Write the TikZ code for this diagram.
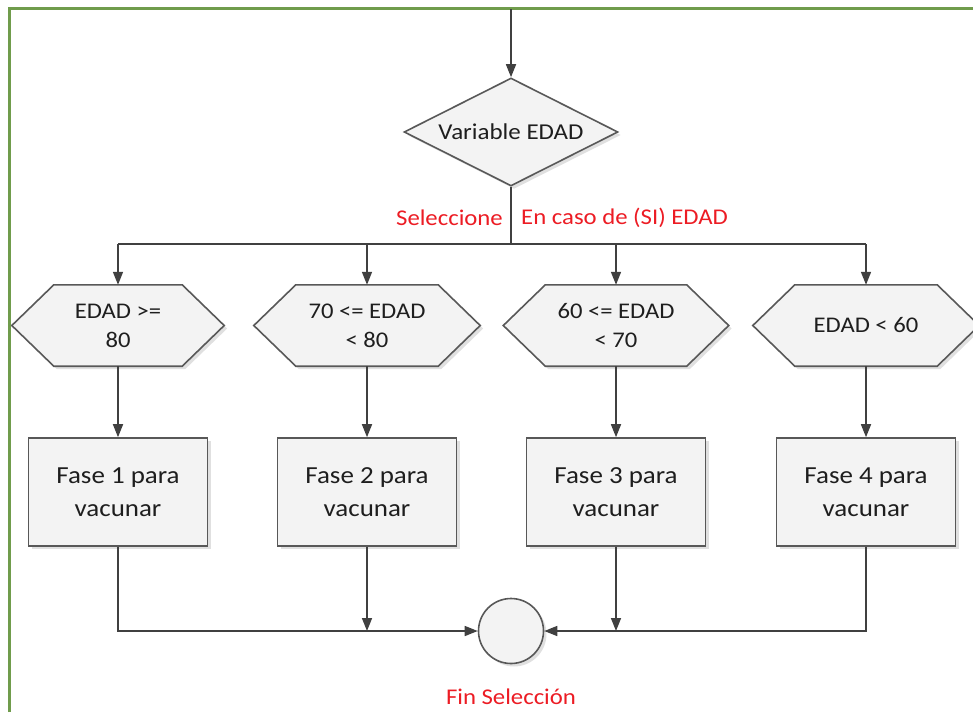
\documentclass[tikz,border=0pt]{standalone}
\usepackage{fontspec}
\setmainfont{Carlito}[FakeStretch=1.1]
\usetikzlibrary{arrows.meta,shapes.geometric,backgrounds,shadows}

\definecolor{frame}{RGB}{112,156,76}
\definecolor{ink}{RGB}{64,64,64}
\definecolor{edge}{RGB}{88,88,88}
\definecolor{shapefill}{RGB}{243,243,243}
\definecolor{note}{RGB}{236,28,36}
\definecolor{txt}{RGB}{30,30,30}

% outline of a flat-topped hexagon around a rectangular node
\newcommand\hexoutline[2]{%
  \draw[shapeline] (#1.north west) -- (#1.north east) -- ([xshift=#2]#1.east)
    -- (#1.south east) -- (#1.south west) -- ([xshift=-#2]#1.west) -- cycle;}

\begin{document}
\begin{tikzpicture}[x=1pt,y=-1pt,
  conn/.style={draw=ink,line width=1.6pt},
  arr/.style={conn,-{Triangle[length=13pt,width=10pt]}},
  softshadow/.style={drop shadow={shadow xshift=3pt,shadow yshift=-3pt,opacity=.12,fill=black}},
  shapeline/.style={draw=edge,line width=1.6pt,fill=shapefill,softshadow},
  decision/.style={shape=diamond,shapeline,inner sep=0pt,aspect=2,
    minimum width=214pt,minimum height=108pt,text=txt,
    font=\fontsize{22.7}{27}\selectfont},
  casebox/.style={shape=rectangle,inner sep=0pt,minimum height=81pt,
    align=center,text=txt,font=\fontsize{22.4}{29}\selectfont},
  stepbox/.style={shape=rectangle,shapeline,inner sep=0pt,minimum width=179pt,
    minimum height=108pt,align=center,text=txt,
    font=\fontsize{24.5}{33}\selectfont},
  joint/.style={shape=circle,shapeline,inner sep=0pt,minimum size=65pt},
  redlabel/.style={inner sep=0pt,text=note,font=\fontsize{22.5}{27}\selectfont}]

\useasboundingbox (0,0) rectangle (973,712);

% frame
\draw[frame,line width=2.7pt] (9.7,712) -- (9.7,8.7) -- (973,8.7);

% decision
\node[decision] (dia) at (511,132) {Variable EDAD};
\coordinate (src) at (511,9);
\coordinate (bus) at (511,244);

% cases
\node[casebox,minimum width=128pt] (h1) at (118,325.5) {EDAD >=\\80};
\node[casebox,minimum width=142pt] (h2) at (367,325.5) {70 <= EDAD\\< 80};
\node[casebox,minimum width=141pt] (h3) at (616,325.5) {60 <= EDAD\\< 70};
\node[casebox,minimum width=142pt] (h4) at (866,325.5) {EDAD < 60};
\begin{scope}[on background layer]
  \hexoutline{h1}{42}
  \hexoutline{h2}{42}
  \hexoutline{h3}{42}
  \hexoutline{h4}{42}
\end{scope}

% actions
\node[stepbox] (f1) at (118,492) {Fase 1 para\\vacunar};
\node[stepbox] (f2) at (367,492) {Fase 2 para\\vacunar};
\node[stepbox] (f3) at (616,492) {Fase 3 para\\vacunar};
\node[stepbox] (f4) at (866,492) {Fase 4 para\\vacunar};

% end of selection
\node[joint] (end) at (511,631) {};

% labels
\node[redlabel,anchor=east] (sel) at (503,218) {Seleccione};
\node[redlabel,anchor=west] (caso) at (521,218) {En caso de (SI) EDAD};
\node[redlabel] (fin) at (511,697) {Fin Selección};

% connectors
\draw[arr] (src) -- (dia.north);
\draw[conn] (dia.south) -- (bus);
\draw[conn] (h1.north |- bus) -- (h4.north |- bus);
\foreach \h in {h1,h2,h3,h4}{
  \draw[arr] (\h.north |- bus) -- (\h.north);
}
\foreach \h/\f in {h1/f1,h2/f2,h3/f3,h4/f4}{
  \draw[arr] (\h.south) -- (\f.north);
}
\draw[arr] (f1.south) |- (end.west);
\draw[arr] (f4.south) |- (end.east);
\draw[arr] (f2.south) -- (f2.south |- end.center);
\draw[arr] (f3.south) -- (f3.south |- end.center);

\end{tikzpicture}
\end{document}
